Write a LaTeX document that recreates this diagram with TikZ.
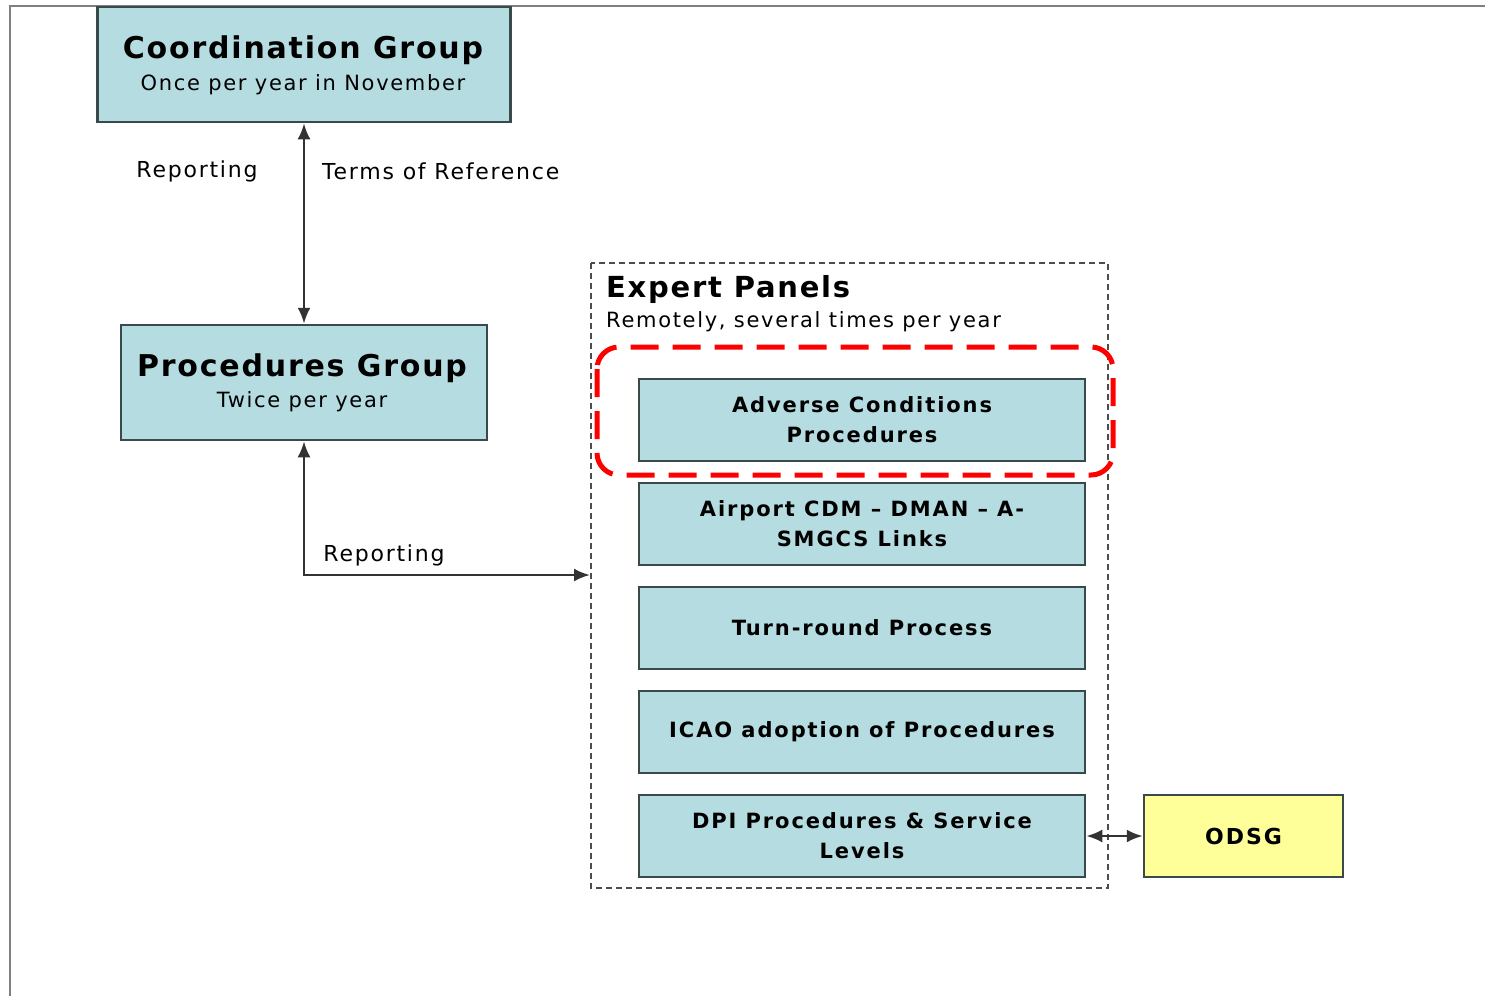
\documentclass[tikz,border=0pt]{standalone}
\usepackage{fontspec}
\setmainfont{DejaVu Sans}
\newfontfamily\spaced[LetterSpace=8]{DejaVu Sans}
\newfontfamily\spacedb[LetterSpace=6]{DejaVu Sans}
\newfontfamily\spacedp[LetterSpace=9]{DejaVu Sans}
\usetikzlibrary{arrows.meta}
\definecolor{boxblue}{HTML}{B5DCE1}
\definecolor{boxyellow}{HTML}{FFFF99}
\definecolor{boxedge}{HTML}{3A4A4A}
\tikzset{
  bluebox/.style={draw=boxedge, line width=2.5pt, fill=boxblue, align=center, inner sep=0pt},
  panelbox/.style={bluebox, minimum width=446pt, minimum height=82pt, font=\spacedp\bfseries\fontsize{21}{30}\selectfont},
  conn/.style={draw=black!80, line width=2.5pt, {Latex[length=16pt,width=13pt]}-{Latex[length=16pt,width=13pt]}},
  lbl/.style={font=\spaced\fontsize{22}{26}\selectfont, inner sep=0pt},
  sub/.style={font=\spaced\fontsize{21}{24}\selectfont, inner sep=0pt},
  title/.style={font=\spacedb\bfseries\fontsize{30}{34}\selectfont, inner sep=0pt},
}
\begin{document}
\begin{tikzpicture}[x=1pt,y=-1pt]
\useasboundingbox (0,0) rectangle (1485,996);
% outer frame lines
\draw[gray, line width=2.5pt] (10,996) -- (10,6) -- (1485,6);
% Coordination group
\node[bluebox, minimum width=413pt, minimum height=115pt] (coord) at (304,64.5) {};
\node[title] (coordt) at (303,50) {Coordination Group};
\node[sub] (coords) at (303,85) {Once per year in November};
% Procedures group
\node[bluebox, minimum width=366pt, minimum height=115pt] (proc) at (304,382.5) {};
\node[title] (proct) at (302,368) {Procedures Group};
\node[sub] (procs) at (302,402) {Twice per year};
% connector coord <-> proc
\draw[conn] (coord.south) -- (proc.north);
\node[lbl] (rep1) at (197,171) {Reporting};
\node[lbl, anchor=west] (tor) at (322,171) {Terms of Reference};
% Expert panels container
\draw[dash pattern=on 6pt off 4pt, draw=black!70, line width=2.5pt] (591,263) rectangle (1108,888);
\coordinate (epin) at (590,575);
\node[font=\spacedb\bfseries\fontsize{29}{34}\selectfont, inner sep=0pt, anchor=west] (ept) at (606,289) {Expert Panels};
\node[sub, anchor=west] (eps) at (606,322) {Remotely, several times per year};
% connector proc <-> expert panels
\draw[conn] (proc.south) |- (epin);
\node[lbl] (rep2) at (384,555) {Reporting};
% panel boxes
\node[panelbox] (p1) at (862,420) {Adverse Conditions\\Procedures};
\node[panelbox] (p2) at (862,524) {Airport CDM – DMAN – A-\\SMGCS Links};
\node[panelbox] (p3) at (862,628) {Turn-round Process};
\node[panelbox] (p4) at (862,732) {ICAO adoption of Procedures};
\node[panelbox] (p5) at (862,836) {DPI Procedures \& Service\\Levels};
% ODSG
\node[draw=boxedge, line width=2.5pt, fill=boxyellow, minimum width=199pt, minimum height=82pt, font=\spacedp\bfseries\fontsize{22}{24}\selectfont] (odsg) at (1243.5,836) {ODSG};
\draw[conn] (p5.east) -- (odsg.west);
% red highlight
\draw[red, line width=5pt, dash pattern=on 28pt off 14pt, rounded corners=22pt] (597,347) rectangle (1113,475);
\end{tikzpicture}
\end{document}
